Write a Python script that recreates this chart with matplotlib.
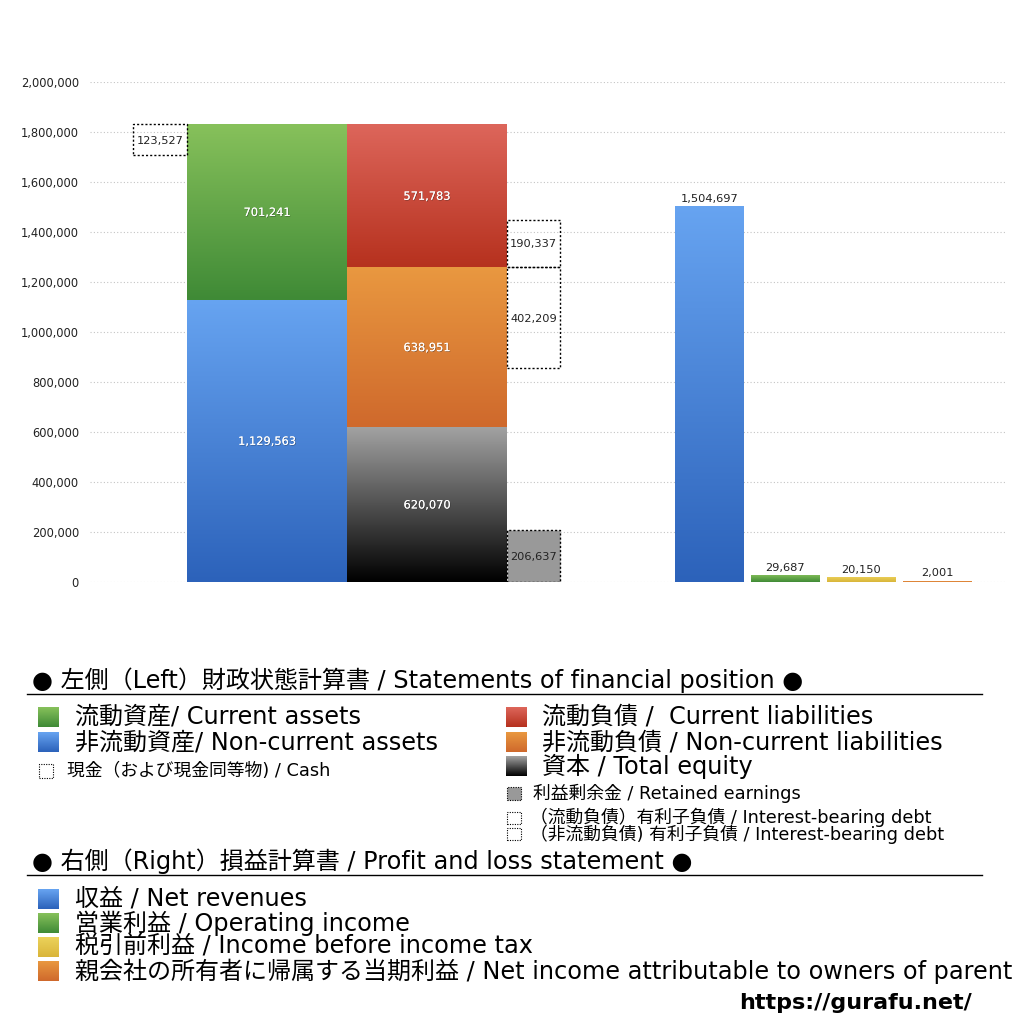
import numpy as np
import matplotlib
matplotlib.use('Agg')
import matplotlib.pyplot as plt
from matplotlib.colors import LinearSegmentedColormap
from matplotlib.patches import Rectangle
from matplotlib.lines import Line2D
import matplotlib.patheffects as pe

plt.rcParams['font.family'] = ['DejaVu Sans', 'Noto Sans CJK JP']

# ---------------- data ----------------
assets_labels = ['非流動資産', '流動資産']
assets_values = [1129563, 701241]
cash_value = 123527
liab_labels = ['資本', '非流動負債', '流動負債']
liab_values = [620070, 638951, 571783]
retained_earnings = 206637
debt_current = 190337
debt_noncurrent = 402209
pl_labels = ['収益', '営業利益', '税引前利益', '親会社の所有者に帰属する当期利益']
pl_values = [1504697, 29687, 20150, 2001]
yticks = [0, 200000, 400000, 600000, 800000, 1000000, 1200000, 1400000,
          1600000, 1800000, 2000000]

# ---------------- styles ----------------
C_GREEN = ('#3f8a36', '#87c15b')
C_BLUE = ('#2c62ba', '#67a4f1')
C_RED = ('#b6311e', '#dd665b')
C_ORANGE = ('#cf692c', '#e99840')
C_BLACK = ('#000000', '#a3a3a3')
C_YELLOW = ('#d9b53a', '#ecd25a')
C_GRAY = '#999999'

W = 1024
fig = plt.figure(figsize=(10.24, 10.24), dpi=100)
ax = fig.add_axes([90 / W, 1 - 582 / W, 917 / W, 500 / W])


def grad_bar(x, w, bottom, height, colors, z=2):
    bars = ax.bar(x, height, width=w, bottom=bottom, align='edge',
                  color='none', linewidth=0, zorder=z)
    rect = bars[0]
    cmap = LinearSegmentedColormap.from_list('g', list(colors))
    grad = np.linspace(0, 1, 256).reshape(-1, 1)
    im = ax.imshow(grad, cmap=cmap, extent=(x, x + w, bottom, bottom + height),
                   origin='lower', aspect='auto', zorder=z, interpolation='bilinear')
    im.set_clip_path(rect)
    return rect


def dotted_box(x, w, bottom, height, face='none', z=3):
    ax.bar(x, height, width=w, bottom=bottom, align='edge', facecolor=face,
           edgecolor='black', linewidth=1.0, linestyle=(0, (1.5, 1.5)), zorder=z)


shadow = [pe.withSimplePatchShadow(offset=(0.5, -0.5), shadow_rgbFace='#222222', alpha=0.45), pe.Normal()]
LBL = 8.2


def inner_label(x, y, v):
    ax.text(x, y, f'{v:,}', color='white', ha='center', va='center_baseline',
            fontsize=LBL, zorder=5, path_effects=shadow)


def box_label(x, y, v):
    ax.text(x, y, f'{v:,}', color='#222222', ha='center', va='center_baseline',
            fontsize=LBL, zorder=5)


# left column: assets
xa, wa = 187, 160
b = 0
for v, c in zip(assets_values, [C_BLUE, C_GREEN]):
    grad_bar(xa, wa, b, v, c)
    inner_label(xa + wa / 2, b + v / 2, v)
    b += v
total_assets = b

# cash box
dotted_box(133, 54, total_assets - cash_value, cash_value)
box_label(133 + 27, total_assets - cash_value / 2, cash_value)

# second column: liabilities + equity
xl, wl = 347, 160
b = 0
bounds = []
for v, c in zip(liab_values, [C_BLACK, C_ORANGE, C_RED]):
    grad_bar(xl, wl, b, v, c)
    inner_label(xl + wl / 2, b + v / 2, v)
    bounds.append((b, b + v))
    b += v

# retained earnings
dotted_box(507, 53, 0, retained_earnings, face=C_GRAY)
box_label(507 + 26.5, retained_earnings / 2, retained_earnings)
# interest-bearing debts
cur_bottom = bounds[2][0]
dotted_box(507, 53, cur_bottom, debt_current)
box_label(507 + 26.5, cur_bottom + debt_current / 2, debt_current)
nc_top = bounds[1][1]
dotted_box(507, 53, nc_top - debt_noncurrent, debt_noncurrent)
box_label(507 + 26.5, nc_top - debt_noncurrent / 2, debt_noncurrent)

# right: profit and loss
pl_x = [675, 751, 827, 903]
pl_w = 69
for x, v, c in zip(pl_x, pl_values, [C_BLUE, C_GREEN, C_YELLOW, C_ORANGE]):
    grad_bar(x, pl_w, 0, v, c)
    ax.text(x + pl_w / 2, max(v, 8000) + 8000, f'{v:,}', ha='center', va='bottom',
            fontsize=LBL, color='#222222', zorder=5)

# axes styling
ax.set_xlim(90, 1007)
ax.set_ylim(0, 2000000)
ax.set_yticks(yticks)
ax.set_yticklabels([f'{t:,}' for t in yticks], fontsize=8.3, color='#222222')
ax.set_xticks([])
ax.tick_params(axis='y', length=0, pad=8)
for s in ax.spines.values():
    s.set_visible(False)
ax.yaxis.grid(True, linestyle=(0, (1, 2)), color='#c4c4c4', linewidth=0.8)
ax.set_axisbelow(True)


# ---------------- legend area ----------------
def fy(ypx):
    return 1 - ypx / W


def fx(xpx):
    return xpx / W


def swatch(xpx, ypx, wpx, hpx, colors=None, face=None, dotted=False):
    x0, y0 = fx(xpx), fy(ypx + hpx / 2)
    wd, ht = wpx / W, hpx / W
    if colors is not None:
        cax = fig.add_axes([x0, y0, wd, ht])
        cmap = LinearSegmentedColormap.from_list('s', list(colors))
        cax.imshow(np.linspace(0, 1, 64).reshape(-1, 1), cmap=cmap, origin='lower',
                   aspect='auto', extent=(0, 1, 0, 1))
        cax.set_axis_off()
    else:
        fig.patches.append(Rectangle((x0, y0), wd, ht, transform=fig.transFigure,
                                     facecolor=face if face else 'none',
                                     edgecolor='black' if dotted else 'none',
                                     linewidth=0.8, linestyle=(0, (1, 1.2))))


TF = 17.3
TS = 12.8

fig.text(fx(32), fy(680), '● 左側（Left）財政状態計算書 / Statements of financial position ●',
         fontsize=TF, va='center', ha='left')
fig.add_artist(Line2D([fx(27), fx(982)], [fy(694), fy(694)], color='black', linewidth=1,
                      transform=fig.transFigure))

swatch(38, 717, 21, 20, C_GREEN)
fig.text(fx(75), fy(717), '流動資産/ Current assets', fontsize=TF, va='center')
swatch(38, 742, 21, 20, C_BLUE)
fig.text(fx(75), fy(742), '非流動資産/ Non-current assets', fontsize=TF, va='center')
swatch(39, 771, 14, 14, dotted=True)
fig.text(fx(67), fy(771), '現金（および現金同等物) / Cash', fontsize=TS, va='center')

swatch(506, 717, 21, 20, C_RED)
fig.text(fx(542), fy(717), '流動負債 /  Current liabilities', fontsize=TF, va='center')
swatch(506, 742, 21, 20, C_ORANGE)
fig.text(fx(542), fy(742), '非流動負債 / Non-current liabilities', fontsize=TF, va='center')
swatch(506, 766, 21, 20, C_BLACK)
fig.text(fx(542), fy(766), '資本 / Total equity', fontsize=TF, va='center')
swatch(507, 793, 14, 13, face=C_GRAY, dotted=True)
fig.text(fx(533), fy(793), '利益剰余金 / Retained earnings', fontsize=TS, va='center')
swatch(507, 818, 14, 12, dotted=True)
swatch(507, 834, 14, 12, dotted=True)
fig.text(fx(530), fy(826),
         '（流動負債）有利子負債 / Interest-bearing debt\n（非流動負債) 有利子負債 / Interest-bearing debt',
         fontsize=TS, va='center', ha='left', linespacing=0.85)

fig.text(fx(32), fy(861), '● 右側（Right）損益計算書 / Profit and loss statement ●',
         fontsize=TF, va='center', ha='left')
fig.add_artist(Line2D([fx(27), fx(982)], [fy(875), fy(875)], color='black', linewidth=1,
                      transform=fig.transFigure))

pl_leg = ['収益 / Net revenues', '営業利益 / Operating income',
          '税引前利益 / Income before income tax',
          '親会社の所有者に帰属する当期利益 / Net income attributable to owners of parent']
for i, (t, c) in enumerate(zip(pl_leg, [C_BLUE, C_GREEN, C_YELLOW, C_ORANGE])):
    y = 899 + i * 24
    swatch(38, y, 21, 20, c)
    fig.text(fx(75), fy(y), t, fontsize=TF, va='center')

fig.text(fx(972), fy(1003), 'https://gurafu.net/', fontsize=16, fontweight='bold',
         ha='right', va='center')

fig.savefig('out.png', dpi=100, facecolor='white')
